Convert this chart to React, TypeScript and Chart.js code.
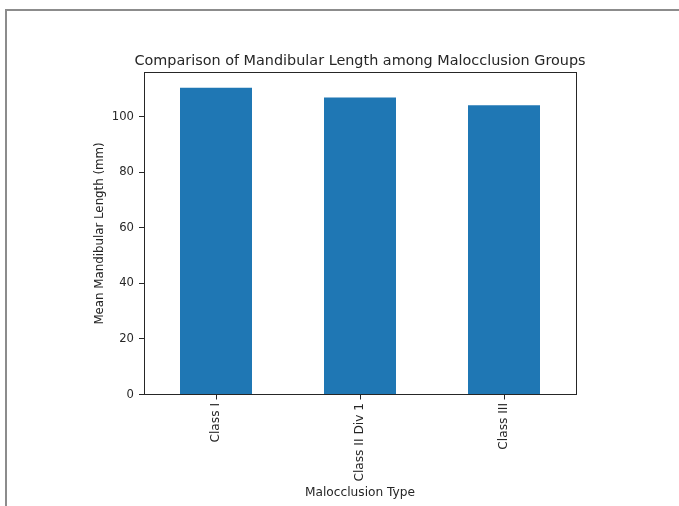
import React, { useEffect, useRef } from "react";
import { Chart, registerables } from "chart.js";

Chart.register(...registerables);

const categories = ["Class I", "Class II Div 1", "Class III"];
const meanLengths = [110.4, 106.9, 104.1];
const yTicks = [0, 20, 40, 60, 80, 100];

const FONT = "'DejaVu Sans', sans-serif";
const TEXT = "#262626";

const frameBox = {
  id: "frameBox",
  afterDatasetsDraw(chart: any) {
    const { ctx, chartArea } = chart;
    ctx.save();
    ctx.strokeStyle = "#262626";
    ctx.lineWidth = 1;
    ctx.strokeRect(
      Math.round(chartArea.left) + 0.5,
      Math.round(chartArea.top) + 0.5,
      Math.round(chartArea.right - chartArea.left),
      Math.round(chartArea.bottom - chartArea.top)
    );
    ctx.restore();
  },
};

export default function App() {
  const ref = useRef<HTMLCanvasElement | null>(null);

  useEffect(() => {
    if (!ref.current) return;
    const chart = new Chart(ref.current, {
      type: "bar",
      data: {
        labels: categories,
        datasets: [
          {
            label: "Mean Mandibular Length (mm)",
            data: meanLengths,
            backgroundColor: "#1f77b4",
            borderWidth: 0,
            categoryPercentage: 1,
            barPercentage: 0.5,
          },
        ],
      },
      options: {
        animation: false,
        responsive: false,
        maintainAspectRatio: false,
        layout: { padding: { left: 89, right: 48, top: 52.5, bottom: 0 } },
        plugins: {
          legend: { display: false },
          tooltip: { enabled: false },
          title: {
            display: true,
            text: "Comparison of Mandibular Length among Malocclusion Groups",
            color: TEXT,
            font: { family: FONT, size: 14.4, weight: "normal" },
            padding: { top: 0, bottom: 2.7 },
          },
        },
        scales: {
          x: {
            afterFit(scale: any) {
              scale.height = 111.5;
            },
            grid: {
              display: true,
              offset: false,
              drawOnChartArea: false,
              drawTicks: true,
              tickLength: 5,
              color: "#262626",
              tickColor: "#262626",
            },
            border: { display: false },
            ticks: {
              color: TEXT,
              font: { family: FONT, size: 12.2 },
              maxRotation: 90,
              minRotation: 90,
              padding: 3.5,
            },
            title: {
              display: true,
              text: "Malocclusion Type",
              color: TEXT,
              font: { family: FONT, size: 12.2 },
              padding: { top: 0, bottom: 6 },
            },
          },
          y: {
            min: 0,
            max: 115.9,
            afterFit(scale: any) {
              scale.width = 55;
            },
            afterBuildTicks(scale: any) {
              scale.ticks = yTicks.map((v) => ({ value: v }));
            },
            grid: {
              display: true,
              drawOnChartArea: false,
              drawTicks: true,
              tickLength: 5,
              color: "#262626",
              tickColor: "#262626",
            },
            border: { display: false },
            ticks: {
              color: TEXT,
              font: { family: FONT, size: 11.6 },
              padding: 5,
              includeBounds: false,
            },
            title: {
              display: true,
              text: "Mean Mandibular Length (mm)",
              color: TEXT,
              font: { family: FONT, size: 11.8 },
              padding: { top: 4, bottom: 4 },
            },
          },
          yRightSpacer: {
            type: "linear",
            position: "right",
            display: true,
            afterFit(scale: any) {
              scale.width = 55;
            },
            grid: { display: false },
            border: { display: false },
            ticks: { display: false },
            title: { display: false },
          },
        },
      },
      plugins: [frameBox],
    });
    return () => chart.destroy();
  }, []);

  return (
    <div
      style={{
        position: "fixed",
        left: 0,
        top: 0,
        width: 679,
        height: 506,
        background: "#fff",
        overflow: "hidden",
      }}
    >
      <div
        style={{
          position: "absolute",
          left: 5,
          top: 9,
          width: 700,
          height: 520,
          borderTop: "2px solid #8c8c8c",
          borderLeft: "2px solid #8c8c8c",
        }}
      />
      <canvas
        ref={ref}
        width={679}
        height={506}
        style={{ position: "absolute", left: 0, top: 0, width: 679, height: 506 }}
      />
    </div>
  );
}
